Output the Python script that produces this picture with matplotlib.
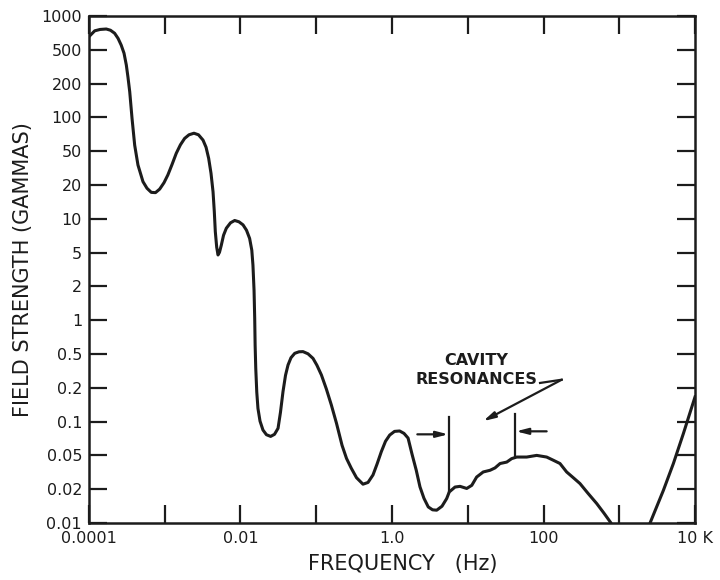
import numpy as np
import matplotlib
matplotlib.use("Agg")
import matplotlib.pyplot as plt
from matplotlib.ticker import FixedLocator, FixedFormatter, NullLocator

# main spectrum (Hz, gammas)
freq_hz = [1.0e-4, 1.19e-4, 1.40e-4, 1.69e-4, 1.92e-4, 2.18e-4, 2.42e-4, 2.66e-4, 2.90e-4, 3.11e-4,
           3.27e-4, 3.45e-4, 3.70e-4, 4.01e-4, 4.43e-4, 5.16e-4, 5.83e-4, 6.64e-4, 7.55e-4, 8.58e-4,
           9.78e-4, 1.10e-3, 1.25e-3, 1.42e-3, 1.61e-3, 1.83e-3, 2.09e-3, 2.43e-3, 2.79e-3, 3.20e-3,
           3.51e-3, 3.80e-3, 4.08e-3, 4.34e-3, 4.51e-3, 4.65e-3, 4.85e-3, 5.05e-3, 5.28e-3, 5.58e-3,
           5.97e-3, 6.50e-3, 7.38e-3, 8.38e-3, 9.55e-3, 1.08e-2, 1.20e-2, 1.32e-2, 1.41e-2, 1.46e-2,
           1.51e-2, 1.54e-2, 1.56e-2, 1.59e-2, 1.64e-2, 1.70e-2, 1.81e-2, 1.98e-2, 2.20e-2, 2.50e-2,
           2.81e-2, 3.13e-2, 3.37e-2, 3.64e-2, 3.93e-2, 4.24e-2, 4.64e-2, 5.20e-2, 5.92e-2, 6.68e-2,
           7.78e-2, 9.06e-2, 0.102, 0.117, 0.136, 0.158, 0.185, 0.219, 0.251, 0.290,
           0.340, 0.414, 0.482, 0.561, 0.634, 0.723, 0.821, 0.933, 1.08, 1.26,
           1.44, 1.63, 1.84, 2.09, 2.34, 2.64, 3.01, 3.43, 3.89, 4.57,
           5.27, 5.70, 6.79, 7.91, 9.69, 11.3, 13.1, 16.0, 19.7, 22.9,
           26.7, 32.7, 38.0, 44.3, 60.0, 81.3, 110, 135, 165, 202,
           245, 303, 386, 504, 630, 778]
field_gamma = [655, 738, 759, 766, 747, 702, 632, 551, 456, 331,
               238, 169, 98, 56.6, 34.4, 21.9, 18.7, 17.2, 17.1, 18.4,
               21.3, 26.3, 35.0, 47.3, 57.0, 65.0, 70.0, 72.3, 70.0, 62.8,
               54.2, 41.2, 27.5, 17.4, 11.6, 7.69, 5.59, 4.69, 5.03, 5.82,
               7.13, 8.24, 9.21, 9.66, 9.40, 8.83, 7.91, 6.68, 5.25, 3.56,
               1.84, 1.04, 0.599, 0.340, 0.183, 0.131, 0.101, 0.0841, 0.0764, 0.0738,
               0.0770, 0.0871, 0.121, 0.185, 0.281, 0.371, 0.452, 0.507, 0.523, 0.525,
               0.502, 0.444, 0.369, 0.283, 0.195, 0.141, 0.0966, 0.0615, 0.0460, 0.0353,
               0.0273, 0.0229, 0.0240, 0.0294, 0.0394, 0.0540, 0.0668, 0.0759, 0.0818, 0.0825,
               0.0785, 0.0713, 0.0511, 0.0334, 0.0213, 0.0166, 0.0139, 0.0131, 0.0130, 0.0141,
               0.0165, 0.0189, 0.0212, 0.0216, 0.0204, 0.0222, 0.0278, 0.0319, 0.0334, 0.0356,
               0.0401, 0.0417, 0.0458, 0.0478, 0.0478, 0.05, 0.0478, 0.0438, 0.0401, 0.0319,
               0.0275, 0.0233, 0.0184, 0.0149, 0.0122, 0.01]

# rising branch near 10 kHz
hf_freq_hz = [2550, 3820, 5180, 7020, 10000]
hf_field_gamma = [0.01, 0.0195, 0.0401, 0.0782, 0.166]

# cavity resonance band edges (Hz)
band_lo_hz = 5.70
band_hi_hz = 42.1

y_ticks = [0.01, 0.02, 0.05, 0.1, 0.2, 0.5, 1, 2, 5, 10, 20, 50, 100, 200, 500, 1000]
y_labels = ["0.01", "0.02", "0.05", "0.1", "0.2", "0.5", "1", "2", "5",
            "10", "20", "50", "100", "200", "500", "1000"]
x_ticks = [1e-4, 1e-3, 1e-2, 1e-1, 1, 10, 100, 1000, 1e4]
x_labels = ["0.0001", "", "0.01", "", "1.0", "", "100", "", "10 K"]

# the original y axis spaces 1-2-5 steps evenly
LOGM = np.log10([1, 2, 5, 10])
STEP = np.array([0, 1 / 3, 2 / 3, 1])


def fwd(v):
    v = np.clip(np.asarray(v, dtype=float), 1e-300, None)
    lg = np.log10(v)
    d = np.floor(lg)
    return d + np.interp(lg - d, LOGM, STEP)


def inv(p):
    p = np.asarray(p, dtype=float)
    d = np.floor(p)
    return 10.0 ** (d + np.interp(p - d, STEP, LOGM))


ink = "#1c1c1c"
plt.rcParams["font.family"] = ["DejaVu Sans"]

fig = plt.figure(figsize=(7.2, 5.8), dpi=100)
ax = fig.add_axes([0.1236, 0.0983, 0.8417, 0.8741])

ax.plot(freq_hz, field_gamma, color=ink, lw=2.2, solid_joinstyle="round", solid_capstyle="round")
ax.plot(hf_freq_hz, hf_field_gamma, color=ink, lw=2.2, solid_joinstyle="round")

ax.set_xscale("log")
ax.set_yscale("function", functions=(fwd, inv))
ax.set_xlim(1e-4, 1e4)
ax.set_ylim(0.01, 1000)

ax.xaxis.set_major_locator(FixedLocator(x_ticks))
ax.xaxis.set_major_formatter(FixedFormatter(x_labels))
ax.xaxis.set_minor_locator(NullLocator())
ax.yaxis.set_major_locator(FixedLocator(y_ticks))
ax.yaxis.set_major_formatter(FixedFormatter(y_labels))
ax.yaxis.set_minor_locator(NullLocator())

ax.tick_params(which="major", direction="in", length=13, width=1.6, color=ink,
               top=True, right=True, labelsize=11.5, labelcolor=ink)
ax.tick_params(axis="x", pad=6)
ax.tick_params(axis="y", pad=5)
for s in ax.spines.values():
    s.set_linewidth(1.8)
    s.set_color(ink)

ax.set_xlabel("FREQUENCY   (Hz)", fontsize=15, color=ink)
ax.xaxis.set_label_coords(0.518, -0.062)
ax.set_ylabel("FIELD STRENGTH (GAMMAS)", fontsize=15, color=ink)
ax.yaxis.set_label_coords(-0.092, 0.5)

# cavity resonance markers
ax.plot([band_lo_hz, band_lo_hz], [0.0189, 0.111], color=ink, lw=1.6)
ax.plot([band_hi_hz, band_hi_hz], [0.0478, 0.116], color=ink, lw=1.6)
arrow = dict(arrowstyle="-|>,head_length=0.7,head_width=0.18", lw=1.6, color=ink,
             shrinkA=0, shrinkB=0)
ax.annotate("", xy=(band_lo_hz * 0.97, 0.077), xytext=(2.16, 0.077), arrowprops=arrow)
ax.annotate("", xy=(band_hi_hz * 1.03, 0.0819), xytext=(110, 0.0819), arrowprops=arrow)

ax.text(13.1, 0.322, "CAVITY\nRESONANCES", ha="center", va="center", fontsize=11.5,
        fontweight="bold", color=ink, linespacing=1.3)
ax.plot([90, 174], [0.228, 0.249], color=ink, lw=1.6)
ax.annotate("", xy=(16.0, 0.101), xytext=(174, 0.249), arrowprops=arrow)

fig.savefig("out.png", dpi=100, facecolor="white")
